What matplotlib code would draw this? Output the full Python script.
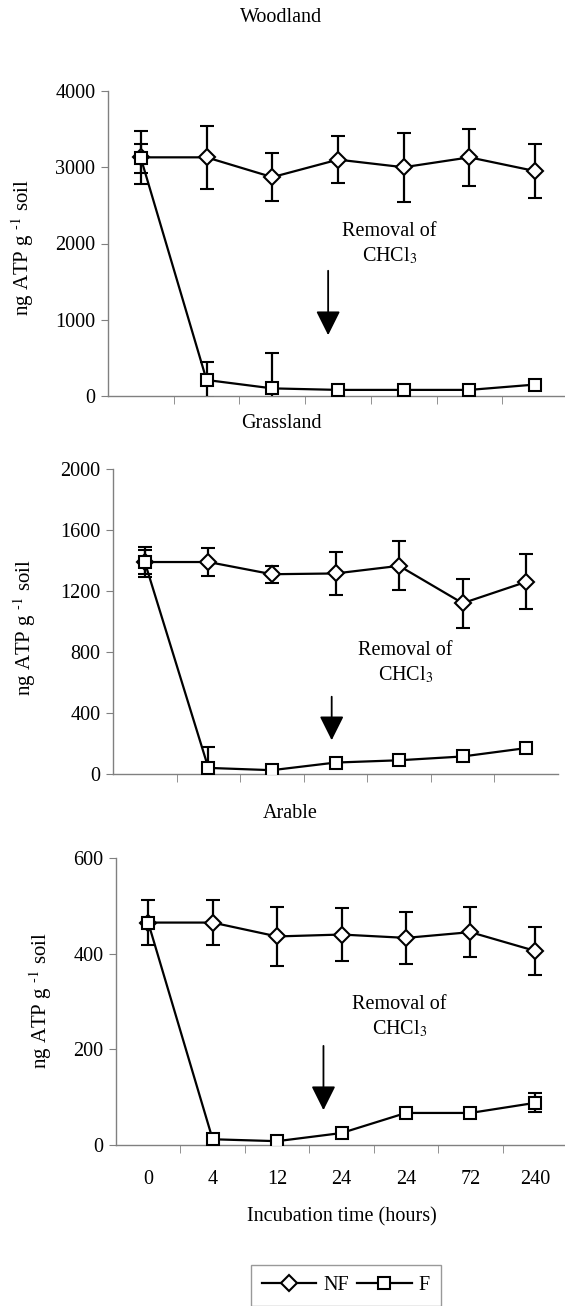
import matplotlib
matplotlib.use("Agg")
import matplotlib.pyplot as plt
from matplotlib.lines import Line2D

plt.rcParams['font.family'] = ['Liberation Serif', 'DejaVu Serif']
plt.rcParams['mathtext.fontset'] = 'stix'

W, H = 565, 1306

# categories (tick labels of the x axis)
times = ["0", "4", "12", "24", "24", "72", "240"]

# Woodland
nf_wood = [3130, 3130, 2870, 3100, 3000, 3130, 2950]
nf_wood_err = [350, 410, 315, 305, 450, 370, 355]
f_wood = [3120, 210, 100, 80, 80, 80, 150]
f_wood_err = [190, 240, 470, 0, 0, 0, 0]

# Grassland
nf_grass = [1390, 1390, 1310, 1315, 1365, 1120, 1260]
nf_grass_err = [100, 90, 55, 140, 160, 160, 180]
f_grass = [1390, 40, 25, 75, 90, 115, 170]
f_grass_err = [80, 140, 0, 0, 0, 0, 0]

# Arable
nf_arable = [465, 465, 436, 440, 433, 445, 406]
nf_arable_err = [47, 47, 62, 55, 54, 53, 50]
f_arable = [465, 12, 8, 25, 67, 67, 88]
f_arable_err = [0, 0, 0, 0, 0, 8, 20]

FS = 14.5
ylab = "ng ATP g $^{\\text{-1}}$ soil"

fig = plt.figure(figsize=(W / 100, H / 100), dpi=100)


def px_axes(left, top, right, bottom):
    return fig.add_axes([left / W, 1 - bottom / H, (right - left) / W, (bottom - top) / H])


nf_style = dict(color='black', lw=1.6, marker='D', markersize=8, markerfacecolor='white',
                markeredgecolor='black', markeredgewidth=1.5)
f_style = dict(color='black', lw=1.6, marker='s', markersize=9, markerfacecolor='white',
               markeredgecolor='black', markeredgewidth=1.5)


def draw_panel(ax, nf, nf_err, f, f_err, ymax, ystep, arrow, text_pos, show_x):
    x = [i + 0.5 for i in range(len(times))]
    ax.errorbar(x, nf, yerr=nf_err, capsize=4.7, capthick=1.6, elinewidth=1.6,
                zorder=3, **nf_style)
    ax.errorbar(x, f, yerr=f_err, capsize=4.7, capthick=1.6, elinewidth=1.6,
                zorder=3, **f_style)
    ax.set_xlim(0, 7)
    ax.set_ylim(0, ymax)
    ax.set_yticks(range(0, ymax + 1, ystep))
    ax.set_xticks(x)
    ax.set_xticks(range(1, 7), minor=True)
    if show_x:
        ax.set_xticklabels(times)
    else:
        ax.set_xticklabels([])
    ax.tick_params(axis='x', which='major', length=0, pad=18, labelsize=FS)
    ax.tick_params(axis='x', which='minor', length=6, color='#808080', direction='out')
    ax.tick_params(axis='y', length=5, color='#808080', labelsize=FS, pad=4)
    for s in ['top', 'right']:
        ax.spines[s].set_visible(False)
    for s in ['left', 'bottom']:
        ax.spines[s].set_color('#808080')
        ax.spines[s].set_linewidth(1.0)
    ax.annotate('', xy=(arrow[0], arrow[2]), xytext=(arrow[0], arrow[1]),
                arrowprops=dict(arrowstyle='-|>,head_length=1.5,head_width=0.75',
                                color='black', lw=1.3))
    ax.text(text_pos[0], text_pos[1], "Removal of\nCHCl$_3$", ha='center', va='center',
            fontsize=FS, linespacing=1.3)


ax1 = px_axes(108, 91, 568, 396)
draw_panel(ax1, nf_wood, nf_wood_err, f_wood, f_wood_err, 4000, 1000,
           (3.35, 1679, 761), (4.28, 1993), False)

ax2 = px_axes(113, 469, 558, 774)
draw_panel(ax2, nf_grass, nf_grass_err, f_grass, f_grass_err, 2000, 400,
           (3.44, 525, 203), (4.6, 728), False)

ax3 = px_axes(116, 858, 567, 1145)
draw_panel(ax3, nf_arable, nf_arable_err, f_arable, f_arable_err, 600, 200,
           (3.22, 213, 67), (4.4, 268), True)
ax3.set_xlabel("Incubation time (hours)", fontsize=FS, labelpad=13)

for yx, yy in [(23, 248), (25, 628), (41, 1001)]:
    fig.text(yx / W, 1 - yy / H, ylab, rotation=90, ha='center', va='center', fontsize=15)

fig.text(281 / W, 1 - 18 / H, "Woodland", ha='center', va='center', fontsize=FS)
fig.text(281 / W, 1 - 423 / H, "Grassland", ha='center', va='center', fontsize=FS)
fig.text(290 / W, 1 - 813 / H, "Arable", ha='center', va='center', fontsize=FS)

handles = [Line2D([], [], **nf_style), Line2D([], [], **f_style)]
leg = fig.legend(handles, ["NF", "F"], ncol=2, loc='upper left',
                 bbox_to_anchor=(251 / W, 1 - 1265 / H), fontsize=FS, frameon=True,
                 fancybox=False, edgecolor='#808080', handlelength=2.7,
                 columnspacing=0.4, handletextpad=0.35, borderpad=0.55, borderaxespad=0)
leg.get_frame().set_linewidth(1.0)

fig.savefig("out.png", dpi=100)
